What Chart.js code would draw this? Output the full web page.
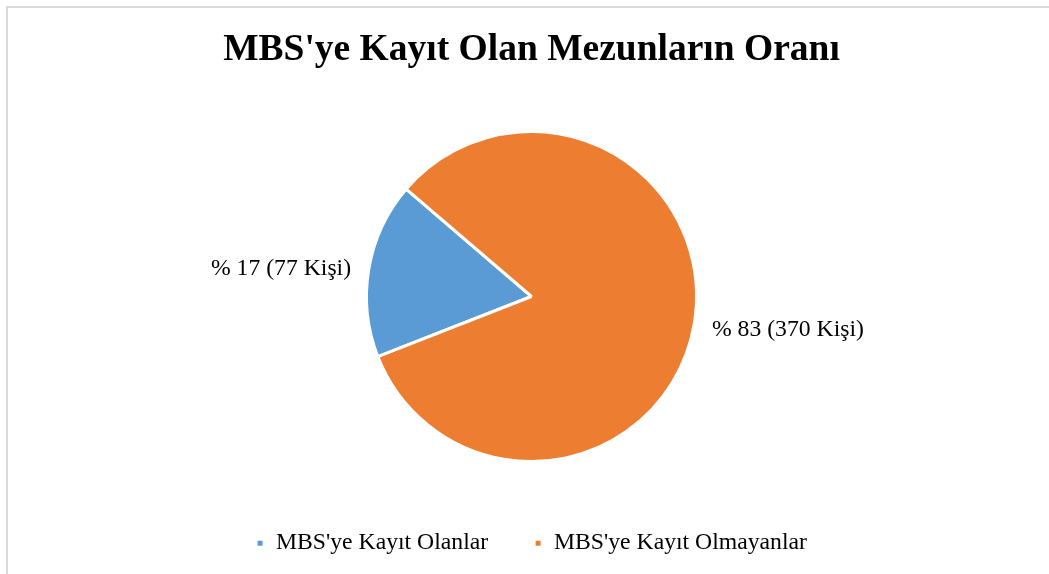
<!DOCTYPE html>
<html lang="tr">
<head>
    <meta charset="UTF-8">
    <title>MBS'ye Kayıt Olan Mezunların Oranı</title>
    <script src="https://cdn.jsdelivr.net/npm/chart.js"></script>
    <style>
        html, body { margin: 0; padding: 0; background: #fff; overflow: hidden; }
        .frame {
            position: absolute; left: 6px; top: 6px; width: 1200px; height: 700px;
            border-left: 2px solid #d9d9d9; border-top: 2px solid #d9d9d9;
        }
        .chart-box { position: absolute; left: 0; top: 0; width: 1049px; height: 574px; }
    </style>
</head>
<body>
<div class="frame"></div>
<div class="chart-box">
    <canvas id="mbs-pie" width="1049" height="574"></canvas>
</div>

<script>
    const titleText = "MBS'ye Kayıt Olan Mezunların Oranı"
    const categories = ["MBS'ye Kayıt Olanlar", "MBS'ye Kayıt Olmayanlar"]
    const people = [77, 370]
    const sliceColors = ['#5B9BD5', '#ED7D31']

    const serif = "'Liberation Serif', 'Times New Roman', serif"
    const total = people.reduce((a, b) => a + b, 0)

    // labels outside the pie, like Excel's "best fit"
    const outsideLabels = {
        id: 'outsideLabels',
        afterDatasetsDraw(chart) {
            const ctx = chart.ctx
            const meta = chart.getDatasetMeta(0)
            ctx.save()
            ctx.font = '23.7px ' + serif
            ctx.fillStyle = '#000'
            ctx.textBaseline = 'middle'
            meta.data.forEach((arc, i) => {
                const mid = (arc.startAngle + arc.endAngle) / 2
                const r = arc.outerRadius + 18
                const x = arc.x + Math.cos(mid) * r
                const y = arc.y + Math.sin(mid) * r + 3
                const pct = Math.round(people[i] / total * 100)
                ctx.textAlign = Math.cos(mid) < 0 ? 'right' : 'left'
                ctx.fillText('% ' + pct + ' (' + people[i] + ' Kişi)', x, y)
            })
            ctx.restore()
        }
    }

    new Chart(document.getElementById('mbs-pie'), {
        type: 'pie',
        data: {
            labels: categories,
            datasets: [{
                data: people,
                backgroundColor: sliceColors,
                borderColor: '#ffffff',
                borderWidth: 3,
                hoverOffset: 0
            }]
        },
        options: {
            responsive: false,
            animation: false,
            rotation: 248.6,
            radius: 165,
            layout: {
                padding: { left: 14, right: 0, top: 0, bottom: 9 }
            },
            plugins: {
                title: {
                    display: true,
                    text: titleText,
                    color: '#000',
                    font: { family: serif, size: 37.5, weight: 'bold' },
                    padding: { top: 28, bottom: 34.7 }
                },
                legend: {
                    position: 'bottom',
                    labels: {
                        color: '#000',
                        font: { family: serif, size: 23.7 },
                        boxWidth: 8,
                        boxHeight: 8,
                        padding: 46
                    }
                },
                tooltip: { enabled: false }
            }
        },
        plugins: [outsideLabels]
    })
</script>
</body>
</html>
